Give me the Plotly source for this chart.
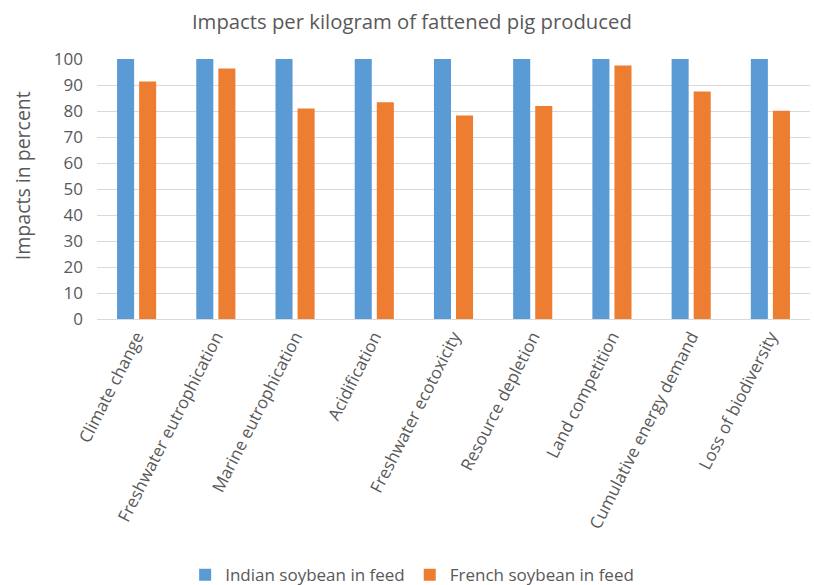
import plotly.graph_objects as go

categories = ["Climate change", "Freshwater eutrophication", "Marine eutrophication",
              "Acidification", "Freshwater ecotoxicity", "Resource depletion",
              "Land competition", "Cumulative energy demand", "Loss of biodiversity"]
indian = [100, 100, 100, 100, 100, 100, 100, 100, 100]
french = [91.3, 96.3, 81.0, 83.4, 78.3, 81.9, 97.5, 87.5, 80.1]
y_ticks = list(range(0, 101, 10))

FONT = "Open Sans"
GREY = "#595959"

fig = go.Figure()
fig.add_trace(go.Bar(x=categories, y=indian, name="Indian soybean in feed",
                     marker=dict(color="#5B9BD5", line=dict(width=0))))
fig.add_trace(go.Bar(x=categories, y=french, name="French soybean in feed",
                     marker=dict(color="#ED7D31", line=dict(width=0))))

fig.update_layout(
    width=814, height=585,
    margin=dict(l=97, r=4, t=59, b=266, autoexpand=False),
    paper_bgcolor="white", plot_bgcolor="white",
    barmode="group", bargap=0.443, bargroupgap=0.227,
    title=dict(text="Impacts per kilogram of fattened pig produced",
               x=0.506, xanchor="center", y=0.962, yanchor="middle",
               font=dict(family=FONT, size=20.3, color=GREY)),
    font=dict(family=FONT, color=GREY),
    legend=dict(orientation="h", x=0.442, xanchor="center", y=-0.985, yanchor="middle",
                font=dict(family=FONT, size=17, color=GREY), itemwidth=30,
                traceorder="normal"),
    xaxis=dict(tickangle=-63, tickfont=dict(family=FONT, size=17, color=GREY),
               showline=True, linecolor="#D9D9D9", linewidth=1, ticks="",
               showgrid=False, automargin=False),
    yaxis=dict(range=[0, 100], tickvals=y_ticks, showgrid=True, gridcolor="#D9D9D9",
               gridwidth=1, zeroline=False, ticks="", ticklabelstandoff=13,
               automargin=False,
               tickfont=dict(family=FONT, size=17, color=GREY)),
    annotations=[dict(text="Impacts in percent", textangle=-90, showarrow=False,
                      xref="paper", yref="paper", x=-0.105, y=0.55,
                      xanchor="center", yanchor="middle",
                      font=dict(family=FONT, size=19.5, color=GREY))],
)

fig.write_html("out.html")
